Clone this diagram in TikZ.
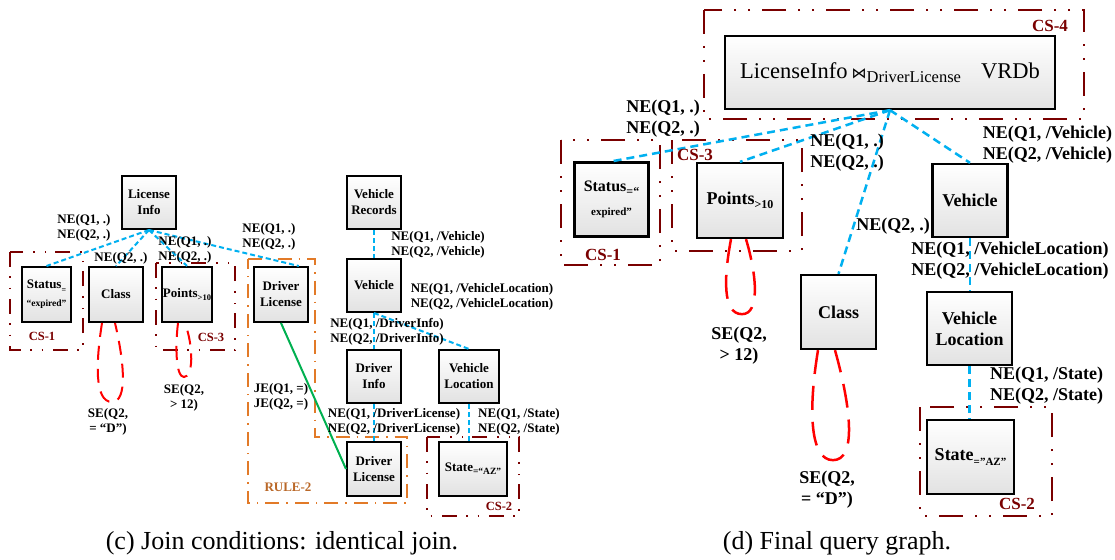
\documentclass[tikz,border=0pt]{standalone}
\usepackage{fontspec}
\newfontfamily\tnr{Liberation Serif}
\newfontfamily\dejavu{DejaVu Sans}
\usetikzlibrary{calc}

\definecolor{csred}{RGB}{122,0,0}
\definecolor{linkblue}{RGB}{0,176,240}
\definecolor{selred}{RGB}{255,0,0}
\definecolor{joingreen}{RGB}{0,176,80}
\definecolor{ruleorange}{RGB}{226,122,40}
\definecolor{rulebrown}{RGB}{186,104,40}
\definecolor{boxgray}{RGB}{226,226,226}

\newcommand\fsz[1]{\fontsize{#1}{#1}\selectfont}
\newcommand\lowsub[2]{\raisebox{-0.25em}{\fontsize{#1}{#1}\selectfont #2}}

\begin{document}
\begin{tikzpicture}[x=1pt,y=-1pt,
  relbox/.style={draw=black, top color=white, bottom color=boxgray, inner sep=0pt, align=center},
  lbox/.style={relbox, line width=2pt, font=\tnr\bfseries\fontsize{13}{16}\selectfont},
  rbox/.style={relbox, line width=2.3pt, font=\tnr\bfseries\fontsize{18}{21}\selectfont},
  lbl/.style={font=\tnr\bfseries\fontsize{13}{15.5}\selectfont, align=center, inner sep=0pt},
  rlbl/.style={font=\tnr\bfseries\fontsize{18}{21}\selectfont, align=center, inner sep=0pt},
  link/.style={linkblue, line width=2pt, dash pattern=on 5pt off 3pt},
  rlink/.style={linkblue, line width=2.5pt, dash pattern=on 8pt off 5pt},
  joinedge/.style={joingreen, line width=2pt},
  selloop/.style={selred, line width=2pt, dash pattern=on 14pt off 9pt},
  rselloop/.style={selred, line width=2.5pt, dash pattern=on 24pt off 12pt},
  csframe/.style={csred, line width=2pt, dash pattern=on 15pt off 9pt on 1.5pt off 10pt on 1.5pt off 10pt},
  rcsframe/.style={csred, line width=2.5pt, dash pattern=on 24pt off 12pt on 2pt off 12pt on 2pt off 12pt},
  ruleframe/.style={ruleorange, line width=2pt, dash pattern=on 14pt off 7pt on 1.5pt off 7pt},
  cslbl/.style={text=csred, font=\tnr\bfseries\fontsize{12.5}{12.5}\selectfont, inner sep=0pt},
  rcslbl/.style={text=csred, font=\tnr\bfseries\fontsize{17}{17}\selectfont, inner sep=0pt},
  caption/.style={font=\tnr\fontsize{26}{28}\selectfont, inner sep=0pt}
]
\fill[white] (0,0) rectangle (1115,559);
\useasboundingbox (0,0) rectangle (1115,559);

% ---------------- (c) join conditions ----------------
% constraint groups
\draw[csframe] (10,252) rectangle (83,350);
\draw[csframe] (156,263) rectangle (235,350);
\draw[csframe] (427,437) rectangle (519,516);
\draw[ruleframe] (248,259) -- (315,259) -- (315,437) -- (407,437) -- (407,503) -- (248,503) -- cycle;

% relations
\node[lbox, minimum width=54pt, minimum height=53pt] (LI) at (149,202.5) {License\\Info};
\node[lbox, minimum width=49pt, minimum height=55pt] (ST) at (46.5,294.5) {Status\lowsub{8}{=}\\[2pt]{\fsz{9.5}“expired”}};
\node[lbox, minimum width=54pt, minimum height=55pt] (CL) at (116,294.5) {Class};
\node[lbox, minimum width=50pt, minimum height=55pt] (PT) at (187,294.5) {Points\lowsub{8.5}{>10}};
\node[lbox, minimum width=54pt, minimum height=55pt] (DLa) at (281,294.5) {Driver\\License};
\node[lbox, minimum width=54pt, minimum height=53pt] (VR) at (374,202.5) {Vehicle\\Records};
\node[lbox, minimum width=54pt, minimum height=53pt] (VE) at (374,285.5) {Vehicle};
\node[lbox, minimum width=54pt, minimum height=53pt] (DI) at (374,376.5) {Driver\\Info};
\node[lbox, minimum width=60pt, minimum height=53pt] (VL) at (469,376.5) {Vehicle\\Location};
\node[lbox, minimum width=54pt, minimum height=54pt] (DLb) at (374,469) {Driver\\License};
\node[lbox, minimum width=68pt, minimum height=54pt] (SA) at (473,469) {State\lowsub{9.5}{=“AZ”}};

% navigation edges
\draw[link] (LI.south) -- (ST.north);
\draw[link] (LI.south) -- (CL.north);
\draw[link] (LI.south) -- (PT.north);
\draw[link] (LI.south) -- (DLa.58);
\draw[link] (VR.south) -- (VE.north);
\draw[link] (VE.south) -- (DI.north);
\draw[link] (VE.south) -- (VL.north);
\draw[link] (DI.south) -- (DLb.north);
\draw[link] (VL.south) -- (VL.south |- SA.north);
% join edge
\draw[joinedge] (DLa.south) -- (DLb.west);

% selection loops
\draw[selloop] ($(CL.south)+(-14,0)$) .. controls ($(CL.south)+(-20,38)$) and ($(CL.south)+(-22,79)$) .. ($(CL.south)+(-4,79)$)
  .. controls ($(CL.south)+(12,79)$) and ($(CL.south)+(8,38)$) .. ($(CL.south)+(-1,0)$);
\draw[selloop] ($(PT.south)+(-9,0)$) .. controls ($(PT.south)+(-12,25)$) and ($(PT.south)+(-11,54)$) .. ($(PT.south)+(-3,54)$)
  .. controls ($(PT.south)+(6,54)$) and ($(PT.south)+(7,25)$) .. ($(PT.south)+(-2,0)$);

% edge labels
\node[lbl] (l1) at (84,228) {NE(Q1, .)\\NE(Q2, .)};
\node[lbl] (l2) at (121,258) {NE(Q2, .)};
\node[lbl] (l3) at (185,250) {NE(Q1, .)\\NE(Q2, .)};
\node[lbl] (l4) at (269,237) {NE(Q1, .)\\NE(Q2, .)};
\node[lbl] (l5) at (438,245) {NE(Q1, /Vehicle)\\NE(Q2, /Vehicle)};
\node[lbl] (l6) at (482,297) {NE(Q1, /VehicleLocation)\\NE(Q2, /VehicleLocation)};
\node[lbl] (l7) at (387,332) {NE(Q1, /DriverInfo)\\NE(Q2, /DriverInfo)};
\node[lbl] (l8) at (281,397) {JE(Q1, =)\\JE(Q2, =)};
\node[lbl] (l9) at (394,422) {NE(Q1, /DriverLicense)\\NE(Q2, /DriverLicense)};
\node[lbl] (l10) at (519,422) {NE(Q1, /State)\\NE(Q2, /State)};
\node[lbl] (l11) at (108,422) {SE(Q2,\\= “D”)};
\node[lbl] (l12) at (184,398) {SE(Q2,\\> 12)};

% group labels
\node[cslbl] (cs1) at (42,336) {CS-1};
\node[cslbl] (cs3) at (211,337) {CS-3};
\node[cslbl] (cs2) at (499,506) {CS-2};
\node[cslbl, text=rulebrown, font=\tnr\bfseries\fontsize{13}{13}\selectfont] (r2) at (288,487) {RULE-2};

\node[caption, anchor=base] (capc) at (282,549) {(c) Join conditions: identical join.};

% ---------------- (d) final query graph ----------------
\draw[rcsframe] (704,10) rectangle (1084,119);
\draw[rcsframe] (561,140) rectangle (660,265);
\draw[rcsframe] (672,140) rectangle (802,251);
\draw[rcsframe] (920,407) rectangle (1052,516);

\node[rbox, minimum width=330pt, minimum height=73pt, font=\tnr\fontsize{22.5}{26}\selectfont] (BIG) at (890,72.5)
  {LicenseInfo\hspace{4pt}{\dejavu\fsz{15}⋈}\raisebox{-4pt}{\fsz{16.5}DriverLicense}\hspace{20pt}VRDb};
\node[rbox, minimum width=74pt, minimum height=74pt, font=\tnr\bfseries\fontsize{16}{21}\selectfont] (RST) at (611.5,199.5)
  {Status\lowsub{12}{=“}\\[3pt]{\fsz{11}expired”}};
\node[rbox, minimum width=86pt, minimum height=75pt] (RPT) at (740,200.5) {Points\lowsub{12}{>10}};
\node[rbox, minimum width=75pt, minimum height=74pt] (RCL) at (838.5,312) {Class};
\node[rbox, minimum width=75pt, minimum height=73pt] (RVE) at (970,200.5) {Vehicle};
\node[rbox, minimum width=85pt, minimum height=73pt] (RVL) at (969.5,328.5) {Vehicle\\Location};
\node[rbox, minimum width=87pt, minimum height=74pt] (RSA) at (970.5,457) {State\lowsub{11}{=”AZ”}};

\draw[rlink] (BIG.south) -- (RST.north);
\draw[rlink] (BIG.south) -- (RPT.north);
\draw[rlink] (BIG.south) -- (RCL.north);
\draw[rlink] (BIG.south) -- (RVE.north);
\draw[rlink] (RVE.south) -- (RVE.south |- RVL.north);
\draw[rlink] (RVL.south) -- (RVL.south |- RSA.north);

\draw[rselloop] ($(RPT.south)+(-9,0)$) .. controls ($(RPT.south)+(-16,37)$) and ($(RPT.south)+(-18,75)$) .. ($(RPT.south)+(2,75)$)
  .. controls ($(RPT.south)+(20,75)$) and ($(RPT.south)+(17,37)$) .. ($(RPT.south)+(6,0)$);
\draw[rselloop] ($(RCL.south)+(-20.5,0)$) .. controls ($(RCL.south)+(-30.5,61)$) and ($(RCL.south)+(-28.5,110)$) .. ($(RCL.south)+(-5.5,110)$)
  .. controls ($(RCL.south)+(17.5,110)$) and ($(RCL.south)+(13.5,61)$) .. ($(RCL.south)+(-3.5,0)$);

\node[rlbl] (m1) at (663,119) {NE(Q1, .)\\NE(Q2, .)};
\node[rlbl] (m2) at (847,153) {NE(Q1, .)\\NE(Q2, .)};
\node[rlbl] (m3) at (1047.5,145) {NE(Q1, /Vehicle)\\NE(Q2, /Vehicle)};
\node[rlbl] (m4) at (893,226) {NE(Q2, .)};
\node[rlbl] (m5) at (1010,261) {NE(Q1, /VehicleLocation)\\NE(Q2, /VehicleLocation)};
\node[rlbl] (m6) at (1046.5,386) {NE(Q1, /State)\\NE(Q2, /State)};
\node[rlbl] (m7) at (739,346) {SE(Q2,\\> 12)};
\node[rlbl] (m8) at (827,490) {SE(Q2,\\= “D”)};

\node[rcslbl] (rcs4) at (1050,26) {CS-4};
\node[rcslbl] (rcs3) at (695,155) {CS-3};
\node[rcslbl] (rcs1) at (603,255) {CS-1};
\node[rcslbl] (rcs2) at (1017,504) {CS-2};

\node[caption, anchor=base] (capd) at (837,549) {(d) Final query graph.};
\end{tikzpicture}
\end{document}
